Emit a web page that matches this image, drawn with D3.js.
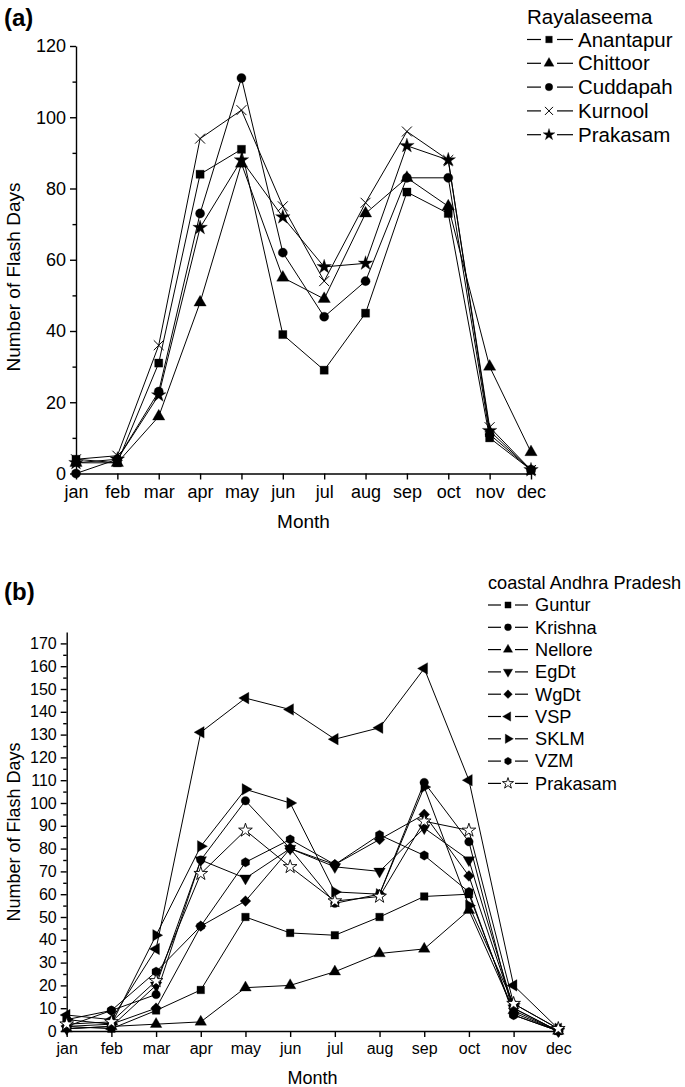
<!DOCTYPE html>
<html lang="en">
<head>
  <meta charset="UTF-8">
  <title>Number of Flash Days</title>
  <style>
    body { margin: 0; background: #fff; }
    svg { display: block; font-family: "Liberation Sans", Arial, sans-serif; }
    .axis path, .axis line { stroke: #000; stroke-width: 1.4px; }
    .axis text { fill: #000; }
  </style>
  <script src="https://d3js.org/d3.v7.min.js"></script>
</head>
<body>
  <svg id="chart" width="685" height="1087"></svg>

  <script>
    // Months on the x axis (both panels)
    const months = ['jan', 'feb', 'mar', 'apr', 'may', 'jun', 'jul', 'aug', 'sep', 'oct', 'nov', 'dec'];

    // Panel (a): Rayalaseema districts
    const rayaNames = ['Anantapur', 'Chittoor', 'Cuddapah', 'Kurnool', 'Prakasam'];
    const anantapur = [4, 3, 31, 84, 91, 39, 29, 45, 79, 73, 10, 1];
    const chittoor  = [3, 3, 16, 48, 87, 55, 49, 73, 83, 75, 30, 6];
    const cuddapah  = [0, 4, 23, 73, 111, 62, 44, 54, 83, 83, 11, 1];
    const kurnool   = [4, 5, 36, 94, 102, 75, 54, 76, 96, 88, 13, 1];
    const prakasamA = [3, 4, 22, 69, 88, 72, 58, 59, 92, 88, 12, 1];
    const rayaTicks = [0, 20, 40, 60, 80, 100, 120];

    // Panel (b): coastal Andhra Pradesh districts
    const coastNames = ['Guntur', 'Krishna', 'Nellore', 'EgDt', 'WgDt', 'VSP', 'SKLM', 'VZM', 'Prakasam'];
    const guntur    = [2, 1, 9, 18, 50, 43, 42, 50, 59, 60, 8, 0];
    const krishna   = [2, 9, 16, 75, 101, 80, 56, 60, 109, 83, 7, 0];
    const nellore   = [1, 2, 3, 4, 19, 20, 26, 34, 36, 53, 9, 0];
    const egdt      = [1, 2, 20, 75, 67, 80, 72, 70, 89, 75, 10, 0];
    const wgdt      = [2, 3, 10, 46, 57, 80, 73, 84, 95, 68, 10, 0];
    const vsp       = [7, 5, 36, 131, 146, 141, 128, 133, 159, 110, 20, 1];
    const sklm      = [5, 3, 42, 81, 106, 100, 61, 60, 107, 55, 12, 1];
    const vzm       = [5, 9, 26, 46, 74, 84, 73, 86, 77, 61, 7, 0];
    const prakasamB = [3, 4, 22, 69, 88, 72, 57, 59, 92, 88, 12, 1];
    const coastTicks = d3.range(0, 171, 10);

    const svg = d3.select('#chart');

    // hexagon for VZM
    const hexagon = {
      draw(ctx, size) {
        const r = Math.sqrt(size / 2.598);
        for (let i = 0; i < 6; i++) {
          const a = Math.PI / 6 + i * Math.PI / 3;
          const px = r * Math.cos(a), py = r * Math.sin(a);
          if (i === 0) ctx.moveTo(px, py); else ctx.lineTo(px, py);
        }
        ctx.closePath();
      }
    };

    // marker: symbol type, rotation, fill
    const markers = {
      square:   { type: d3.symbolSquare, rot: 0, fill: '#000' },
      triUp:    { type: d3.symbolTriangle, rot: 0, fill: '#000' },
      triDown:  { type: d3.symbolTriangle, rot: 180, fill: '#000' },
      triLeft:  { type: d3.symbolTriangle, rot: -90, fill: '#000' },
      triRight: { type: d3.symbolTriangle, rot: 90, fill: '#000' },
      circle:   { type: d3.symbolCircle, rot: 0, fill: '#000' },
      diamond:  { type: d3.symbolSquare, rot: 45, fill: '#000' },
      hex:      { type: hexagon, rot: 0, fill: '#000' },
      times:    { type: d3.symbolTimes, rot: 0, fill: 'none' },
      star:     { type: d3.symbolStar, rot: 0, fill: '#000' },
      starOpen: { type: d3.symbolStar, rot: 0, fill: '#fff' }
    };

    function drawMarker(g, kind, x, y, size) {
      const m = markers[kind];
      g.append('path')
        .attr('d', d3.symbol().type(m.type).size(size)())
        .attr('transform', `translate(${x},${y}) rotate(${m.rot})`)
        .attr('fill', m.fill)
        .attr('stroke', '#000')
        .attr('stroke-width', kind === 'times' ? 1 : (kind === 'starOpen' ? 0.9 : 0.3));
    }

    function panel(cfg) {
      const x = d3.scalePoint().domain(months).range(cfg.xRange);
      const y = d3.scaleLinear().domain(cfg.yDomain).range(cfg.yRange);
      const g = svg.append('g');

      // minor ticks
      g.append('g')
        .attr('class', 'axis')
        .attr('transform', `translate(${cfg.xRange[0]},0)`)
        .call(d3.axisLeft(y).tickValues(cfg.minor).tickSize(3.5).tickSizeOuter(0).tickFormat(''))
        .select('.domain').remove();

      g.append('g')
        .attr('class', 'axis')
        .attr('transform', `translate(${cfg.xRange[0]},0)`)
        .call(d3.axisLeft(y).tickValues(cfg.ticks).tickSize(6).tickSizeOuter(0).tickPadding(4))
        .selectAll('text').style('font-size', cfg.tickFont);

      g.append('g')
        .attr('class', 'axis')
        .attr('transform', `translate(0,${cfg.yRange[0]})`)
        .call(d3.axisBottom(x).tickSize(6).tickSizeOuter(0).tickPadding(6))
        .selectAll('text').style('font-size', cfg.tickFont);

      // axis titles
      g.append('text')
        .attr('x', (cfg.xRange[0] + cfg.xRange[1]) / 2)
        .attr('y', cfg.monthY)
        .attr('text-anchor', 'middle')
        .style('font-size', cfg.titleFont)
        .text('Month');

      g.append('text')
        .attr('transform', `translate(20,${cfg.ylabY}) rotate(-90)`)
        .attr('text-anchor', 'middle')
        .style('font-size', cfg.titleFont)
        .text('Number of Flash Days');

      // series
      const line = d3.line().x((d, i) => x(months[i])).y(d => y(d));
      cfg.series.forEach(s => {
        g.append('path')
          .datum(s.values)
          .attr('d', line)
          .attr('fill', 'none')
          .attr('stroke', '#000')
          .attr('stroke-width', 1);
      });
      cfg.series.forEach(s => {
        s.values.forEach((v, i) => drawMarker(g, s.marker, x(months[i]), y(v), cfg.mSize));
      });

      // panel label
      g.append('text')
        .attr('x', 4)
        .attr('y', cfg.tagY)
        .style('font-size', '24px')
        .style('font-weight', 'bold')
        .text(cfg.tag);

      // legend
      const L = cfg.leg;
      const lg = g.append('g');
      lg.append('text')
        .attr('x', L.x)
        .attr('y', L.titleY)
        .attr('dy', '0.35em')
        .style('font-size', L.font)
        .text(L.title);
      cfg.series.forEach((s, i) => {
        const cy = L.y0 + i * L.step;
        lg.append('line').attr('x1', L.x).attr('x2', L.mx - L.gap).attr('y1', cy).attr('y2', cy)
          .attr('stroke', '#000').attr('stroke-width', 1.2);
        lg.append('line').attr('x1', L.mx + L.gap).attr('x2', L.x2).attr('y1', cy).attr('y2', cy)
          .attr('stroke', '#000').attr('stroke-width', 1.2);
        drawMarker(lg, s.marker, L.mx, cy, L.mSize);
        lg.append('text')
          .attr('x', L.tx)
          .attr('y', cy)
          .attr('dy', '0.35em')
          .style('font-size', L.font)
          .text(s.name);
      });
    }

    // panel (a)
    panel({
      tag: '(a)', tagY: 26,
      xRange: [76, 531],
      yDomain: [0, 120], yRange: [473.5, 46],
      ticks: rayaTicks, minor: d3.range(10, 120, 20),
      tickFont: '18px', titleFont: '19px',
      monthY: 528, ylabY: 277,
      mSize: 66,
      series: [
        { name: rayaNames[0], values: anantapur, marker: 'square' },
        { name: rayaNames[1], values: chittoor, marker: 'triUp' },
        { name: rayaNames[2], values: cuddapah, marker: 'circle' },
        { name: rayaNames[3], values: kurnool, marker: 'times' },
        { name: rayaNames[4], values: prakasamA, marker: 'star' }
      ],
      leg: { title: 'Rayalaseema', x: 527, x2: 573, mx: 549, gap: 8, tx: 578,
             titleY: 17, y0: 39.5, step: 23.8, font: '20.5px', mSize: 44 }
    });

    // panel (b)
    panel({
      tag: '(b)', tagY: 600,
      xRange: [66.7, 558.3],
      yDomain: [0, 175], yRange: [1031, 632],
      ticks: coastTicks, minor: d3.range(5, 175, 10),
      tickFont: '16px', titleFont: '18px',
      monthY: 1084, ylabY: 832,
      mSize: 58,
      series: [
        { name: coastNames[0], values: guntur, marker: 'square' },
        { name: coastNames[1], values: krishna, marker: 'circle' },
        { name: coastNames[2], values: nellore, marker: 'triUp' },
        { name: coastNames[3], values: egdt, marker: 'triDown' },
        { name: coastNames[4], values: wgdt, marker: 'diamond' },
        { name: coastNames[5], values: vsp, marker: 'triLeft' },
        { name: coastNames[6], values: sklm, marker: 'triRight' },
        { name: coastNames[7], values: vzm, marker: 'hex' },
        { name: coastNames[8], values: prakasamB, marker: 'starOpen' }
      ],
      leg: { title: 'coastal Andhra Pradesh', x: 488, x2: 528, mx: 508, gap: 7, tx: 535,
             titleY: 583, y0: 605, step: 22.3, font: '18.2px', mSize: 38 }
    });
  </script>
</body>
</html>
